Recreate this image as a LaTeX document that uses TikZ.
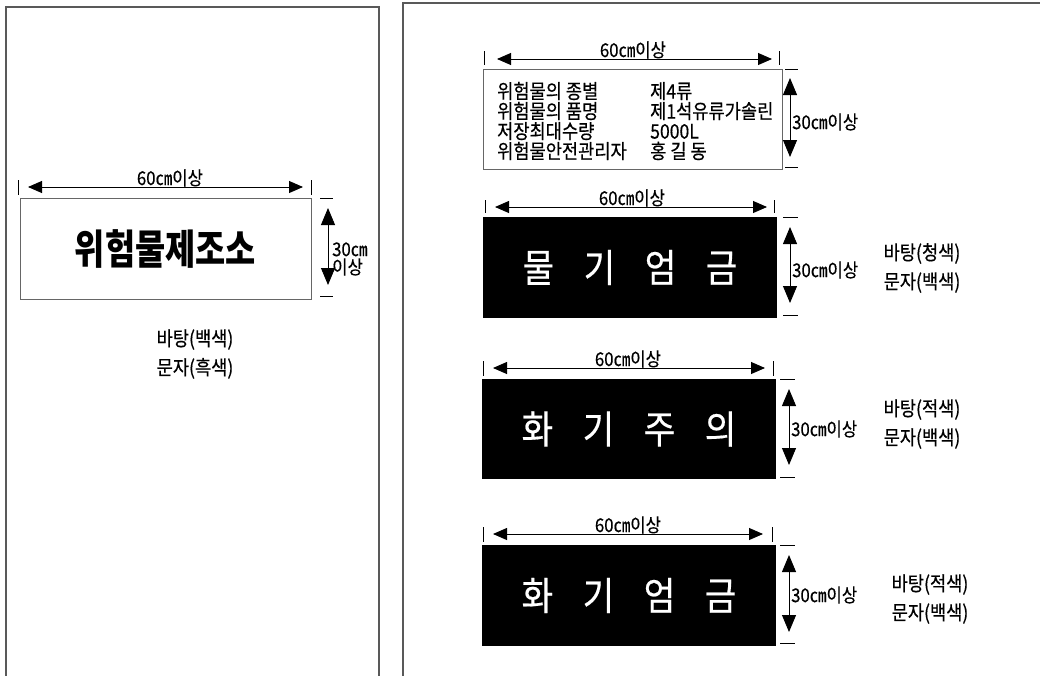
\documentclass[tikz,border=0pt]{standalone}
\usepackage{fontspec}
\setmainfont{Noto Sans CJK KR}[FakeStretch=0.88, FakeBold=0.4]
\newfontfamily\titlefont{Noto Sans CJK KR}[FakeStretch=0.8]
\usetikzlibrary{arrows.meta}
\tikzset{
 hdim/.style={line width=0.9pt, {Triangle[length=14pt,width=12pt]}-{Triangle[length=14pt,width=12pt]}},
 vdim/.style={line width=0.9pt, {Triangle[length=17pt,width=14pt]}-{Triangle[length=17pt,width=14pt]}},
 tickline/.style={line width=0.9pt},
 dimlbl/.style={font=\fontsize{19}{18}\selectfont, inner sep=0pt},
 note/.style={font=\fontsize{20}{29}\selectfont, align=center, inner sep=0pt},
 frameline/.style={draw=black!65, line width=1.4pt},
 whitesign/.style={draw=black!60, line width=0.8pt, fill=white, inner sep=0pt},
 blacksign/.style={fill=black, text=white, inner sep=0pt, font=\fontsize{39}{40}\selectfont},
}
\newcommand{\gapch}{\hspace{29.5pt}}
\begin{document}
\begin{tikzpicture}[x=1pt,y=-1pt]
\useasboundingbox (0,0) rectangle (1040,675);
\fill[white] (0,0) rectangle (1040,675);

% ---------- left panel ----------
\draw[frameline] (6,680) -- (6,7) -- (379,7) -- (379,680);
\node[whitesign, minimum width=291pt, minimum height=101pt,
      font=\titlefont\bfseries\fontsize{41}{42}\selectfont] (s0) at (165.5,248.5) {위험물제조소};
\draw[tickline] (18,180) -- (18,195);
\draw[tickline] (311,180) -- (311,195);
\coordinate (s0a) at (28,187);
\coordinate (s0b) at (303,187);
\draw[hdim] (s0a) -- (s0b);
\node[dimlbl, anchor=base] (s0w) at (170,185) {60㎝이상};
\draw[tickline] (320,198) -- (333,198);
\draw[tickline] (320,296) -- (333,296);
\coordinate (s0c) at (328,208);
\coordinate (s0d) at (328,285);
\draw[vdim] (s0c) -- (s0d);
\node[dimlbl, anchor=west, align=left] (s0h) at (332,259) {30㎝\\이상};
\node[note] (n0) at (195,354) {바탕(백색)\\문자(흑색)};

% ---------- right panel ----------
\draw[frameline] (403,680) -- (403,3) -- (1045,3);

% info sign
\node[whitesign, minimum width=299pt, minimum height=100pt] (s1) at (632.5,119) {};
\node[anchor=west, inner sep=0pt, align=left, font=\fontsize{20}{20}\selectfont] (info) at (497,121)
 {\makebox[153pt][l]{위험물의 종별}제4류\\
  \makebox[153pt][l]{위험물의 품명}제1석유류가솔린\\
  \makebox[153pt][l]{저장최대수량}5000L\\
  \makebox[153pt][l]{위험물안전관리자}홍 길 동};
\draw[tickline] (484,51) -- (484,65);
\draw[tickline] (779,51) -- (779,65);
\coordinate (s1a) at (497,59);
\coordinate (s1b) at (772,59);
\draw[hdim] (s1a) -- (s1b);
\node[dimlbl, anchor=base] (s1w) at (633,57) {60㎝이상};
\draw[tickline] (785,69) -- (798,69);
\draw[tickline] (785,167) -- (798,167);
\coordinate (s1c) at (790,78);
\coordinate (s1d) at (790,157);
\draw[vdim] (s1c) -- (s1d);
\node[dimlbl, anchor=west] (s1h) at (792,122) {30㎝이상};

% sign 2
\node[blacksign, minimum width=294pt, minimum height=101pt] (s2) at (630,267.5) {물\gapch 기\gapch 엄\gapch 금};
\draw[tickline] (485,200) -- (485,213);
\draw[tickline] (774,200) -- (774,213);
\coordinate (s2a) at (495,207);
\coordinate (s2b) at (767,207);
\draw[hdim] (s2a) -- (s2b);
\node[dimlbl, anchor=base] (s2w) at (632,205) {60㎝이상};
\draw[tickline] (783,217) -- (798,217);
\draw[tickline] (783,315) -- (798,315);
\coordinate (s2c) at (790,227);
\coordinate (s2d) at (790,303);
\draw[vdim] (s2c) -- (s2d);
\node[dimlbl, anchor=west] (s2h) at (792,270) {30㎝이상};
\node[note] (n2) at (922,268) {바탕(청색)\\문자(백색)};

% sign 3
\node[blacksign, minimum width=294pt, minimum height=100pt] (s3) at (629,429) {화\gapch 기\gapch 주\gapch 의};
\draw[tickline] (483,361) -- (483,376);
\draw[tickline] (773,361) -- (773,376);
\coordinate (s3a) at (493,368);
\coordinate (s3b) at (765,368);
\draw[hdim] (s3a) -- (s3b);
\node[dimlbl, anchor=base] (s3w) at (628,366) {60㎝이상};
\draw[tickline] (780,379) -- (795,379);
\draw[tickline] (780,477) -- (795,477);
\coordinate (s3c) at (789,389);
\coordinate (s3d) at (789,465);
\draw[vdim] (s3c) -- (s3d);
\node[dimlbl, anchor=west] (s3h) at (791,429) {30㎝이상};
\node[note] (n3) at (922,424) {바탕(적색)\\문자(백색)};

% sign 4
\node[blacksign, minimum width=294pt, minimum height=101pt] (s4) at (629,595.5) {화\gapch 기\gapch 엄\gapch 금};
\draw[tickline] (483,527) -- (483,542);
\draw[tickline] (772,527) -- (772,542);
\coordinate (s4a) at (493,534);
\coordinate (s4b) at (763,534);
\draw[hdim] (s4a) -- (s4b);
\node[dimlbl, anchor=base] (s4w) at (628,532) {60㎝이상};
\draw[tickline] (780,545) -- (795,545);
\draw[tickline] (780,643) -- (795,643);
\coordinate (s4c) at (789,555);
\coordinate (s4d) at (789,632);
\draw[vdim] (s4c) -- (s4d);
\node[dimlbl, anchor=west] (s4h) at (791,595) {30㎝이상};
\node[note] (n4) at (930,599) {바탕(적색)\\문자(백색)};
\end{tikzpicture}
\end{document}
